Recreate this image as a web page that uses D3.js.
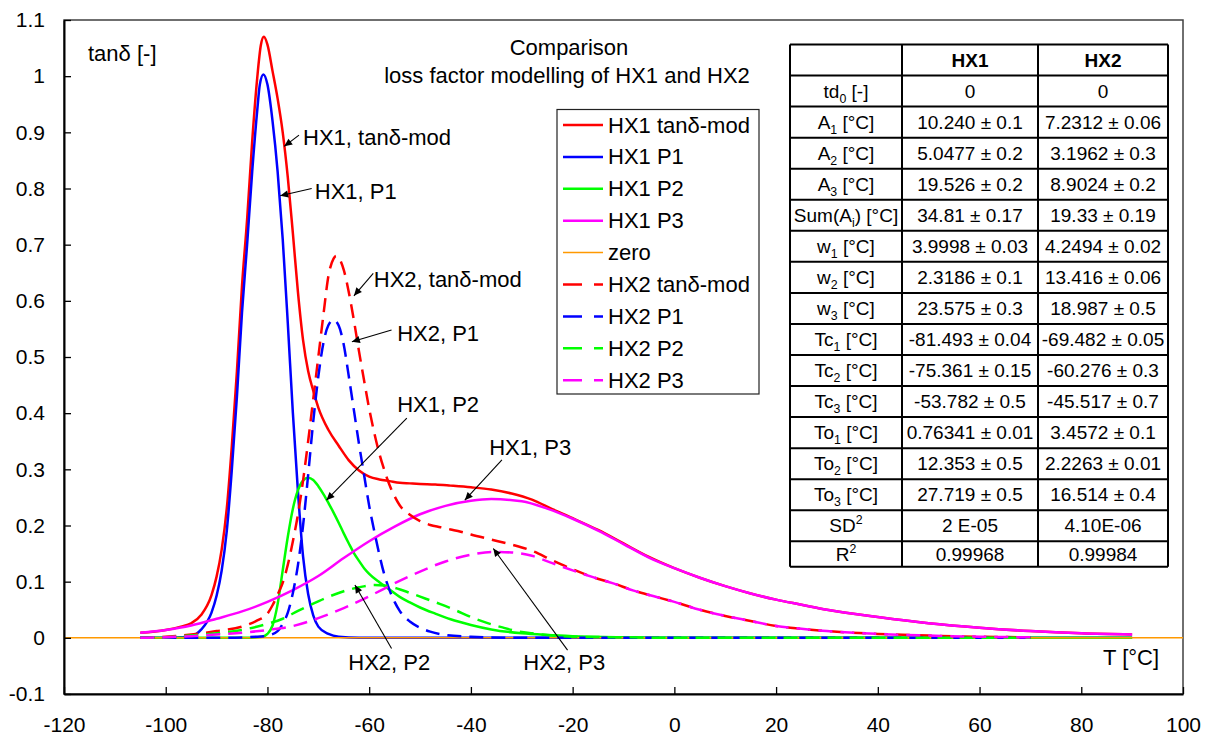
<!DOCTYPE html>
<html><head><meta charset="utf-8">
<script src="https://cdn.jsdelivr.net/npm/d3@7"></script>
<style>
body{margin:0;background:#fff;}
svg{display:block;font-family:"Liberation Sans",Arial,sans-serif;}
</style>
</head><body>
<svg id="chart" width="1210" height="740"></svg>
<script>
// ---------- DATA ----------
const xTicks = [-120,-100,-80,-60,-40,-20,0,20,40,60,80,100];
const xTickLabels = ["-120","-100","-80","-60","-40","-20","0","20","40","60","80","100"];
const yTicks = [-0.1,0,0.1,0.2,0.3,0.4,0.5,0.6,0.7,0.8,0.9,1.0,1.1];
const yTickLabels = ["-0.1","0","0.1","0.2","0.3","0.4","0.5","0.6","0.7","0.8","0.9","1","1.1"];

const hx1Tand = [[-105,0.009],[-100,0.014],[-97,0.02],[-95,0.026],[-93,0.041],[-91,0.076],[-90,0.109],[-89,0.157],[-88,0.23],[-87,0.342],[-86,0.475],[-85,0.627],[-84,0.745],[-83,0.884],[-82,0.998],[-81.3,1.055],[-80.7,1.07],[-80,1.056],[-79,1.009],[-78,0.96],[-77,0.9],[-76,0.82],[-75,0.72],[-74,0.615],[-73,0.53],[-72,0.475],[-71,0.44],[-70,0.41],[-68,0.37],[-66,0.342],[-64,0.316],[-62,0.298],[-60,0.287],[-58,0.282],[-56,0.279],[-54,0.276],[-52,0.275],[-50,0.274],[-47,0.273],[-44,0.271],[-40,0.268],[-36,0.264],[-32,0.257],[-28,0.246],[-24,0.229],[-20,0.213],[-15,0.192],[-10,0.168],[-5,0.144],[0,0.124],[5,0.107],[10,0.092],[15,0.079],[20,0.068],[25,0.059],[30,0.05],[40,0.037],[50,0.026],[60,0.018],[70,0.012],[80,0.008],[90,0.006]];
const hx1P1 = [[-105,0],[-100,0],[-97,0.001],[-95,0.003],[-93,0.015],[-91,0.045],[-90,0.075],[-89,0.12],[-88,0.19],[-87,0.30],[-86,0.43],[-85,0.58],[-84,0.70],[-83,0.83],[-82,0.94],[-81.5,0.985],[-80.8,1.003],[-80,0.985],[-79,0.92],[-78,0.83],[-77,0.71],[-76,0.56],[-75,0.40],[-74,0.26],[-73,0.145],[-72,0.078],[-71,0.04],[-70,0.02],[-68,0.007],[-66,0.002],[-62,0],[90,0]];
const hx1P2 = [[-105,0],[-84,0],[-81,0.002],[-80,0.007],[-79,0.022],[-78,0.06],[-77,0.12],[-76,0.18],[-75,0.23],[-74,0.263],[-73,0.28],[-72,0.285],[-71,0.281],[-70,0.27],[-69,0.256],[-68,0.24],[-67,0.223],[-66,0.205],[-65,0.186],[-64,0.168],[-63,0.151],[-62,0.137],[-61,0.124],[-60,0.114],[-58,0.099],[-56,0.086],[-54,0.073],[-52,0.063],[-50,0.054],[-47,0.043],[-44,0.033],[-40,0.023],[-36,0.015],[-30,0.008],[-25,0.005],[-20,0.003],[-10,0.001],[0,0],[90,0]];
const hx1P3 = [[-105,0.009],[-100,0.014],[-95,0.022],[-90,0.034],[-85,0.047],[-80,0.064],[-75,0.085],[-70,0.110],[-65,0.142],[-60,0.172],[-55,0.198],[-50,0.220],[-45,0.235],[-40,0.244],[-36,0.247],[-30,0.243],[-25,0.230],[-20,0.212],[-15,0.191],[-10,0.167],[-5,0.143],[0,0.124],[5,0.107],[10,0.092],[15,0.079],[20,0.068],[25,0.059],[30,0.05],[40,0.037],[50,0.026],[60,0.018],[70,0.012],[80,0.008],[90,0.006]];
const zeroLine = [[-120,0],[100,0]];
const hx2Tand = [[-105,0],[-100,0.002],[-95,0.006],[-90,0.012],[-85,0.02],[-82,0.031],[-80,0.043],[-79,0.058],[-78,0.077],[-77,0.098],[-76,0.13],[-75,0.172],[-74,0.22],[-73,0.28],[-72,0.35],[-71,0.425],[-70,0.50],[-69,0.575],[-68,0.645],[-67,0.675],[-66.5,0.68],[-66,0.677],[-65,0.655],[-64,0.615],[-63,0.565],[-62,0.51],[-61,0.458],[-60,0.408],[-59,0.365],[-58,0.328],[-57,0.298],[-56,0.272],[-55,0.252],[-54,0.236],[-52,0.219],[-50,0.208],[-48,0.201],[-46,0.197],[-44,0.193],[-42,0.189],[-40,0.184],[-36,0.175],[-32,0.166],[-28,0.155],[-24,0.138],[-20,0.122],[-16,0.108],[-12,0.097],[-8,0.084],[-4,0.074],[0,0.064],[5,0.05],[10,0.039],[15,0.03],[20,0.021],[25,0.016],[30,0.012],[40,0.007],[50,0.004],[60,0.002],[70,0.001]];
const hx2P1 = [[-105,0],[-90,0],[-82,0.002],[-80,0.004],[-78,0.012],[-77,0.025],[-76,0.045],[-75,0.08],[-74,0.13],[-73,0.2],[-72,0.29],[-71,0.385],[-70,0.465],[-69,0.525],[-68,0.557],[-67,0.566],[-66,0.556],[-65,0.522],[-64,0.465],[-63,0.405],[-62,0.345],[-61,0.29],[-60,0.235],[-59,0.19],[-58,0.148],[-57,0.112],[-56,0.085],[-55,0.064],[-54,0.048],[-52,0.029],[-50,0.018],[-48,0.011],[-45,0.005],[-40,0.002],[-30,0],[70,0]];
const hx2P2 = [[-105,0],[-100,0.001],[-95,0.004],[-90,0.008],[-85,0.014],[-80,0.025],[-77,0.034],[-74,0.048],[-71,0.061],[-68,0.073],[-65,0.083],[-62,0.09],[-59,0.094],[-57,0.093],[-55,0.089],[-52,0.08],[-49,0.07],[-46,0.06],[-43,0.049],[-40,0.037],[-37,0.027],[-34,0.019],[-31,0.012],[-28,0.008],[-25,0.005],[-20,0.002],[-10,0.001],[0,0],[70,0]];
const hx2P3 = [[-105,0],[-100,0.001],[-95,0.003],[-90,0.006],[-85,0.009],[-80,0.014],[-75,0.021],[-70,0.035],[-65,0.053],[-60,0.074],[-55,0.097],[-50,0.118],[-45,0.136],[-40,0.148],[-36,0.153],[-32,0.152],[-28,0.146],[-24,0.133],[-20,0.12],[-16,0.108],[-12,0.097],[-8,0.084],[-4,0.074],[0,0.064],[5,0.05],[10,0.039],[15,0.03],[20,0.021],[25,0.016],[30,0.012],[40,0.007],[50,0.004],[60,0.002],[70,0.001]];

const seriesNames = ["HX1 tanδ-mod","HX1 P1","HX1 P2","HX1 P3","zero","HX2 tanδ-mod","HX2 P1","HX2 P2","HX2 P3"];
const seriesData = [hx1Tand,hx1P1,hx1P2,hx1P3,zeroLine,hx2Tand,hx2P1,hx2P2,hx2P3];

const tableHeader = ["","HX1","HX2"];
const tableLabels = ["td_{0} [-]","A_{1} [°C]","A_{2} [°C]","A_{3} [°C]","Sum(A_{i}) [°C]","w_{1} [°C]","w_{2} [°C]","w_{3} [°C]","Tc_{1} [°C]","Tc_{2} [°C]","Tc_{3} [°C]","To_{1} [°C]","To_{2} [°C]","To_{3} [°C]","SD^{2}","R^{2}"];
const tableHX1 = ["0","10.240 ± 0.1","5.0477 ± 0.2","19.526 ± 0.2","34.81 ± 0.17","3.9998 ± 0.03","2.3186 ± 0.1","23.575 ± 0.3","-81.493 ± 0.04","-75.361 ± 0.15","-53.782 ± 0.5","0.76341 ± 0.01","12.353 ± 0.5","27.719 ± 0.5","2 E-05","0.99968"];
const tableHX2 = ["0","7.2312 ± 0.06","3.1962 ± 0.3","8.9024 ± 0.2","19.33 ± 0.19","4.2494 ± 0.02","13.416 ± 0.06","18.987 ± 0.5","-69.482 ± 0.05","-60.276 ± 0.3","-45.517 ± 0.7","3.4572 ± 0.1","2.2263 ± 0.01","16.514 ± 0.4","4.10E-06","0.99984"];

const annLabels = ["HX1, tanδ-mod","HX1, P1","HX2, tanδ-mod","HX2, P1","HX1, P2","HX1, P3","HX2, P2","HX2, P3"];

// ---------- STYLE / LAYOUT ----------
const seriesColors = ["#ff0000","#0000ff","#00ff00","#ff00ff","#ff9900","#ff0000","#0000ff","#00ff00","#ff00ff"];
const seriesDashed = [false,false,false,false,false,true,true,true,true];
const seriesWidth = [2.5,2.5,2.5,2.5,1.5,2.5,2.5,2.5,2.5];
// annotation placement in data units: text anchor, arrow tail, arrow tip
const annPos = [
  {t:[-73.0,0.877], a:[-73.8,0.895], b:[-76.7,0.875]},
  {t:[-70.7,0.781], a:[-71.3,0.800], b:[-77.5,0.787]},
  {t:[-59.1,0.625], a:[-59.2,0.649], b:[-63.0,0.609]},
  {t:[-54.5,0.528], a:[-55.6,0.548], b:[-63.4,0.527]},
  {t:[-54.5,0.402], a:[-52.6,0.391], b:[-68.4,0.245]},
  {t:[-36.4,0.326], a:[-33.9,0.317], b:[-41.2,0.245]},
  {t:[-64.1,-0.057], a:[-55.6,-0.019], b:[-62.8,0.094]},
  {t:[-29.7,-0.057], a:[-21.0,-0.022], b:[-35.6,0.159]}
];

const W = 1210, H = 740;
const M = {left:64, right:1183, top:20, bottom:694};
const FONT = '"Liberation Sans", Arial, sans-serif';

const svg = d3.select("#chart");
svg.append("rect").attr("width",W).attr("height",H).attr("fill","#fff");

const x = d3.scaleLinear().domain([-120,100]).range([M.left,M.right]);
const y = d3.scaleLinear().domain([-0.1,1.1]).range([M.bottom,M.top]);

const defs = svg.append("defs");
defs.append("marker").attr("id","arr").attr("viewBox","0 0 10 10")
  .attr("refX",10).attr("refY",5).attr("markerWidth",10).attr("markerHeight",8)
  .attr("markerUnits","userSpaceOnUse").attr("orient","auto")
  .append("path").attr("d","M0,0.5L10,5L0,9.5Z").attr("fill","#000");

// plot frame (top/right)
svg.append("rect").attr("x",M.left).attr("y",M.top)
  .attr("width",M.right-M.left).attr("height",M.bottom-M.top)
  .attr("fill","none").attr("stroke","#404040").attr("stroke-width",1.5);

// series
const line = d3.line().x(d=>x(d[0])).y(d=>y(d[1])).curve(d3.curveMonotoneX);
const gSeries = svg.append("g");
seriesData.forEach((data,i)=>{
  gSeries.append("path").datum(data).attr("d",line)
    .attr("fill","none").attr("stroke",seriesColors[i])
    .attr("stroke-width",seriesWidth[i])
    .attr("stroke-linejoin","round")
    .attr("stroke-dasharray",seriesDashed[i]?"14,8":null);
});

// axes
const yAxis = d3.axisLeft(y).tickValues(yTicks).tickFormat((d,i)=>yTickLabels[i])
  .tickSizeInner(-7).tickSizeOuter(0).tickPadding(19);
const gy = svg.append("g").attr("transform",`translate(${M.left},0)`).call(yAxis);
gy.attr("font-size",21).attr("font-family",FONT);
gy.select(".domain").attr("stroke","#000").attr("stroke-width",2);
gy.selectAll(".tick line").attr("stroke","#000").attr("stroke-width",1.3);
gy.selectAll(".tick text").attr("fill","#000");

const xAxis = d3.axisBottom(x).tickValues(xTicks).tickFormat((d,i)=>xTickLabels[i])
  .tickSizeInner(-7).tickSizeOuter(0).tickPadding(23);
const gx = svg.append("g").attr("transform",`translate(0,${M.bottom})`).call(xAxis);
gx.attr("font-size",21).attr("font-family",FONT);
gx.select(".domain").attr("stroke","#000").attr("stroke-width",2);
gx.selectAll(".tick line").attr("stroke","#000").attr("stroke-width",1.3);
gx.selectAll(".tick text").attr("fill","#000");

// texts
const txt = (s,xx,yy,opt={}) => svg.append("text").attr("x",xx).attr("y",yy)
  .attr("font-size",opt.fs||22).attr("font-family",FONT).attr("fill","#000")
  .attr("text-anchor",opt.anchor||"start").attr("font-weight",opt.fw||null).text(s);

txt("tanδ [-]", 88, 61);
txt("Comparison", 569, 55, {anchor:"middle"});
txt("loss factor modelling of HX1 and HX2", 567, 83, {anchor:"middle"});
txt("T [°C]", 1103, 665);

// annotations
annLabels.forEach((lab,i)=>{
  const p = annPos[i];
  svg.append("line").attr("x1",x(p.a[0])).attr("y1",y(p.a[1]))
    .attr("x2",x(p.b[0])).attr("y2",y(p.b[1]))
    .attr("stroke","#000").attr("stroke-width",1.1).attr("marker-end","url(#arr)");
  txt(lab, x(p.t[0]), y(p.t[1]));
});

// legend
const lg = {x0:557, y0:109.5, w:202, h:284.5, row0:125, dy:31.9};
svg.append("rect").attr("x",lg.x0).attr("y",lg.y0).attr("width",lg.w).attr("height",lg.h)
  .attr("fill","#fff").attr("stroke","#222").attr("stroke-width",1.2);
seriesNames.forEach((nm,i)=>{
  const yy = lg.row0 + i*lg.dy;
  svg.append("line").attr("x1",lg.x0+6).attr("x2",lg.x0+46).attr("y1",yy).attr("y2",yy)
    .attr("stroke",seriesColors[i]).attr("stroke-width",seriesWidth[i])
    .attr("stroke-dasharray",seriesDashed[i]?"19,12":null);
  txt(nm, lg.x0+51, yy+7.5);
});

// table
const colX = [790, 902, 1038, 1168];
const nRows = tableLabels.length + 1;
const rowTop = [];
for (let r=0;r<nRows;r++) rowTop.push(44.5 + r*31.05);
rowTop.push(rowTop[nRows-1] + 25.5);
const tbl = svg.append("g");
tbl.append("rect").attr("x",colX[0]).attr("y",rowTop[0]).attr("width",colX[3]-colX[0])
  .attr("height",rowTop[nRows]-rowTop[0]).attr("fill","#fff");

function rich(sel, str, fs){
  const parts = str.split(/(_\{[^}]*\}|\^\{[^}]*\})/).filter(s=>s.length);
  let shift = 0;
  parts.forEach(p=>{
    let dy = 0, size = fs, content = p;
    if (p.startsWith("_{")) { content = p.slice(2,-1); size = fs*0.65; dy = 5 - shift; shift = 5; }
    else if (p.startsWith("^{")) { content = p.slice(2,-1); size = fs*0.65; dy = -8 - shift; shift = -8; }
    else { dy = -shift; shift = 0; }
    sel.append("tspan").attr("dy",dy).attr("font-size",size).text(content);
  });
}
const TFS = 19;
for (let r=0;r<nRows;r++){
  const cy = (rowTop[r]+rowTop[r+1])/2 + TFS*0.35;
  const cells = r===0 ? tableHeader : [tableLabels[r-1], tableHX1[r-1], tableHX2[r-1]];
  cells.forEach((c,ci)=>{
    const t = tbl.append("text").attr("x",(colX[ci]+colX[ci+1])/2).attr("y",cy)
      .attr("text-anchor","middle").attr("font-family",FONT).attr("font-size",TFS)
      .attr("font-weight", r===0?"bold":null).attr("fill","#000");
    rich(t, c, TFS);
  });
}
// grid lines
rowTop.forEach(yy=>tbl.append("line").attr("x1",colX[0]).attr("x2",colX[3]).attr("y1",yy).attr("y2",yy)
  .attr("stroke","#000").attr("stroke-width",2));
colX.forEach(xx=>tbl.append("line").attr("x1",xx).attr("x2",xx).attr("y1",rowTop[0]).attr("y2",rowTop[nRows])
  .attr("stroke","#000").attr("stroke-width",2));
</script>
</body></html>
